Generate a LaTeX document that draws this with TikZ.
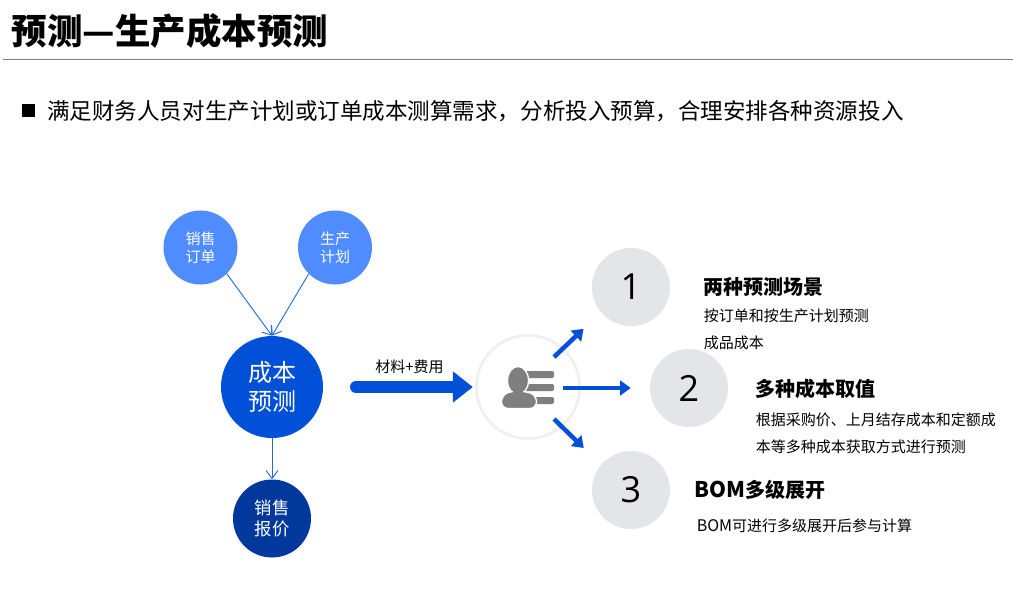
\documentclass[tikz,border=0pt]{standalone}
\usepackage{fontspec}
\usetikzlibrary{arrows.meta}
\setmainfont{Noto Sans CJK SC}
\newfontfamily\numfont{Open Sans}
\definecolor{skyblue}{HTML}{4F8CFF}
\definecolor{midblue}{HTML}{0050D8}
\definecolor{deepblue}{HTML}{00389C}
\definecolor{pale}{HTML}{E4E5E9}
\definecolor{iconGray}{HTML}{7F7F7F}
\tikzset{
    lab/.style={anchor=west,inner sep=0pt,text=black,font=\fontsize{11.25}{11.25}\selectfont},
    head/.style={anchor=west,inner sep=0pt,text=black,font=\fontsize{15}{15}\selectfont\bfseries},
    ball/.style={circle,inner sep=0pt,text=white,align=center},
    numball/.style={circle,fill=pale,minimum size=58.5pt,inner sep=0pt,text=black,font=\numfont\fontsize{27}{27}\selectfont},
    thin arrow/.style={draw=midblue!85!white,line width=0.7pt,-{Straight Barb[length=6pt,width=9pt]}},
    fat arrow/.style={draw=midblue,line width=3.4pt,-{Triangle[length=8pt,width=11pt]}},
    bar/.style={fill=iconGray,rounded corners=1.5pt}
}
\begin{document}
\begin{tikzpicture}[x=0.75pt,y=-0.75pt]
\useasboundingbox (0,0) rectangle (1013,594);
\node[anchor=west,inner sep=0pt,font=\fontsize{26.6}{26.6}\selectfont\bfseries] (title) at (11.5,31) {预测—生产成本预测};
\coordinate (ruleL) at (3,59.5);
\coordinate (ruleR) at (1013,59.5);
\draw[draw=iconGray,line width=0.75pt] (ruleL) -- (ruleR);
\node[fill=black,minimum size=9.75pt,inner sep=0pt] (bullet) at (28,110.5) {};
\node[anchor=west,inner sep=0pt,font=\fontsize{16.9}{16.9}\selectfont] (intro) at (47,111) {满足财务人员对生产计划或订单成本测算需求，分析投入预算，合理安排各种资源投入};
\node[ball,fill=skyblue,minimum size=55.5pt,font=\fontsize{11.25}{13.5}\selectfont] (order) at (200.5,247.5) {销售\\订单};
\node[ball,fill=skyblue,minimum size=55.5pt,font=\fontsize{11.25}{13.5}\selectfont] (plan) at (335,247.5) {生产\\计划};
\node[ball,fill=midblue,minimum size=76.5pt,font=\fontsize{18}{21.75}\selectfont] (cost) at (272,387) {成本\\预测};
\node[ball,fill=deepblue,minimum size=58.5pt,font=\fontsize{13}{15.75}\selectfont] (quote) at (272,518.5) {销售\\报价};
\draw[thin arrow] (order.south east) -- (cost.north);
\draw[thin arrow] (plan.south west) -- (cost.north);
\draw[thin arrow] (cost.south) -- (quote.north);
\node[circle,draw=black!6,line width=2.2pt,minimum size=77.5pt,inner sep=0pt] (person) at (528,387) {};
\coordinate (flowstart) at (356,387);
\draw[draw=midblue,line width=9pt,line cap=round,-{Triangle[length=15pt,width=22.5pt]},shorten >=1.5pt] (flowstart) -- (person.west);
\node[inner sep=0pt,font=\fontsize{11.25}{11.25}\selectfont] (material) at (409.5,367) {材料+费用};
\fill[bar] (525,371) rectangle (554,378);
\fill[bar] (525,384) rectangle (554,391);
\fill[bar] (530,397) rectangle (554,404);
\draw[fill=iconGray,draw=white,line width=1pt] (518,380.5) ellipse (10.5 and 14);
\draw[fill=iconGray,draw=white,line width=1pt,rounded corners=5pt] (501.5,408.5) -- (501.5,395) -- (512,391) -- (524,391) -- (536.5,395) -- (536.5,408.5) -- cycle;
\fill[iconGray] (513,388) rectangle (523,394);
\node[numball] (one) at (631,287) {1};
\node[numball] (two) at (689,388) {2};
\node[numball] (three) at (631,490) {3};
\coordinate (upstart) at (554,357);
\coordinate (midstart) at (563,388);
\coordinate (downstart) at (554,419);
\draw[fat arrow,shorten >=18pt] (upstart) -- (one.220);
\draw[fat arrow,shorten >=14.25pt] (midstart) -- (two.west);
\draw[fat arrow,shorten >=18pt] (downstart) -- (three.140);
\node[head] (headA) at (703.5,287) {两种预测场景};
\node[lab] (textA) at (703.5,316) {按订单和按生产计划预测};
\node[lab] (textAb) at (703.5,342.5) {成品成本};
\node[head] (headB) at (755.5,389) {多种成本取值};
\node[lab] (textB) at (755.5,420) {根据采购价、上月结存成本和定额成};
\node[lab] (textBb) at (755.5,447) {本等多种成本获取方式进行预测};
\node[head] (headC) at (694.5,490) {{\fontsize{16.2}{15}\selectfont BOM}多级展开};
\node[lab] (textC) at (696.5,526) {{\fontsize{12}{11.25}\selectfont BOM}可进行多级展开后参与计算};
\end{tikzpicture}
\end{document}
